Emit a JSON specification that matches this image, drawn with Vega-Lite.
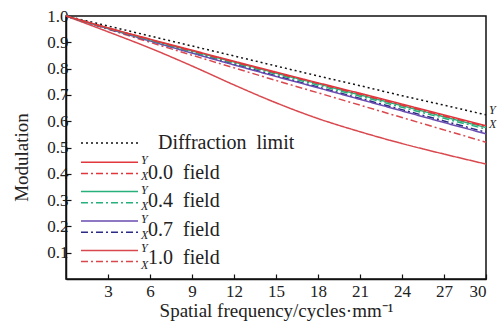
{
  "$schema": "https://vega.github.io/schema/vega-lite/v6.json",
  "width": 420,
  "height": 263,
  "autosize": "none",
  "padding": {"left": 66, "top": 16, "right": 12, "bottom": 49},
  "background": "white",
  "config": {
    "font": "Liberation Serif",
    "view": {"stroke": "#111111", "strokeWidth": 1.5},
    "axis": {
      "grid": false,
      "domainColor": "#111111",
      "domainWidth": 1.5,
      "tickColor": "#111111",
      "tickWidth": 1.2,
      "tickSize": -5,
      "labelOverlap": false,
      "labelFont": "Liberation Serif",
      "labelFontSize": 17,
      "labelColor": "#222222",
      "titleFont": "Liberation Serif",
      "titleFontSize": 19,
      "titleFontWeight": "normal",
      "titleColor": "#222222"
    }
  },
  "data": {
    "values": [
      {"f": 0, "m": 1.0, "s": "Diffraction limit"},
      {"f": 3, "m": 0.962, "s": "Diffraction limit"},
      {"f": 6, "m": 0.924, "s": "Diffraction limit"},
      {"f": 9, "m": 0.886, "s": "Diffraction limit"},
      {"f": 12, "m": 0.848, "s": "Diffraction limit"},
      {"f": 15, "m": 0.81, "s": "Diffraction limit"},
      {"f": 18, "m": 0.772, "s": "Diffraction limit"},
      {"f": 21, "m": 0.735, "s": "Diffraction limit"},
      {"f": 24, "m": 0.697, "s": "Diffraction limit"},
      {"f": 27, "m": 0.661, "s": "Diffraction limit"},
      {"f": 30, "m": 0.624, "s": "Diffraction limit"},

      {"f": 0, "m": 1.0, "s": "1.0 X", "field": "1.0 field"},
      {"f": 3, "m": 0.95, "s": "1.0 X", "field": "1.0 field"},
      {"f": 6, "m": 0.9, "s": "1.0 X", "field": "1.0 field"},
      {"f": 9, "m": 0.851, "s": "1.0 X", "field": "1.0 field"},
      {"f": 12, "m": 0.803, "s": "1.0 X", "field": "1.0 field"},
      {"f": 15, "m": 0.755, "s": "1.0 X", "field": "1.0 field"},
      {"f": 18, "m": 0.708, "s": "1.0 X", "field": "1.0 field"},
      {"f": 21, "m": 0.661, "s": "1.0 X", "field": "1.0 field"},
      {"f": 24, "m": 0.614, "s": "1.0 X", "field": "1.0 field"},
      {"f": 27, "m": 0.567, "s": "1.0 X", "field": "1.0 field"},
      {"f": 30, "m": 0.52, "s": "1.0 X", "field": "1.0 field"},

      {"f": 0, "m": 1.0, "s": "1.0 Y", "field": "1.0 field"},
      {"f": 3, "m": 0.94, "s": "1.0 Y", "field": "1.0 field"},
      {"f": 6, "m": 0.878, "s": "1.0 Y", "field": "1.0 field"},
      {"f": 9, "m": 0.81, "s": "1.0 Y", "field": "1.0 field"},
      {"f": 12, "m": 0.738, "s": "1.0 Y", "field": "1.0 field"},
      {"f": 15, "m": 0.67, "s": "1.0 Y", "field": "1.0 field"},
      {"f": 18, "m": 0.61, "s": "1.0 Y", "field": "1.0 field"},
      {"f": 21, "m": 0.56, "s": "1.0 Y", "field": "1.0 field"},
      {"f": 24, "m": 0.515, "s": "1.0 Y", "field": "1.0 field"},
      {"f": 27, "m": 0.475, "s": "1.0 Y", "field": "1.0 field"},
      {"f": 30, "m": 0.437, "s": "1.0 Y", "field": "1.0 field"},

      {"f": 0, "m": 1.0, "s": "0.7 X", "field": "0.7 field"},
      {"f": 3, "m": 0.952, "s": "0.7 X", "field": "0.7 field"},
      {"f": 6, "m": 0.906, "s": "0.7 X", "field": "0.7 field"},
      {"f": 9, "m": 0.861, "s": "0.7 X", "field": "0.7 field"},
      {"f": 12, "m": 0.817, "s": "0.7 X", "field": "0.7 field"},
      {"f": 15, "m": 0.773, "s": "0.7 X", "field": "0.7 field"},
      {"f": 18, "m": 0.73, "s": "0.7 X", "field": "0.7 field"},
      {"f": 21, "m": 0.687, "s": "0.7 X", "field": "0.7 field"},
      {"f": 24, "m": 0.644, "s": "0.7 X", "field": "0.7 field"},
      {"f": 27, "m": 0.601, "s": "0.7 X", "field": "0.7 field"},
      {"f": 30, "m": 0.558, "s": "0.7 X", "field": "0.7 field"},

      {"f": 0, "m": 1.0, "s": "0.7 Y", "field": "0.7 field"},
      {"f": 3, "m": 0.952, "s": "0.7 Y", "field": "0.7 field"},
      {"f": 6, "m": 0.905, "s": "0.7 Y", "field": "0.7 field"},
      {"f": 9, "m": 0.859, "s": "0.7 Y", "field": "0.7 field"},
      {"f": 12, "m": 0.814, "s": "0.7 Y", "field": "0.7 field"},
      {"f": 15, "m": 0.77, "s": "0.7 Y", "field": "0.7 field"},
      {"f": 18, "m": 0.727, "s": "0.7 Y", "field": "0.7 field"},
      {"f": 21, "m": 0.683, "s": "0.7 Y", "field": "0.7 field"},
      {"f": 24, "m": 0.639, "s": "0.7 Y", "field": "0.7 field"},
      {"f": 27, "m": 0.595, "s": "0.7 Y", "field": "0.7 field"},
      {"f": 30, "m": 0.552, "s": "0.7 Y", "field": "0.7 field"},

      {"f": 0, "m": 1.0, "s": "0.4 X", "field": "0.4 field"},
      {"f": 3, "m": 0.953, "s": "0.4 X", "field": "0.4 field"},
      {"f": 6, "m": 0.908, "s": "0.4 X", "field": "0.4 field"},
      {"f": 9, "m": 0.864, "s": "0.4 X", "field": "0.4 field"},
      {"f": 12, "m": 0.821, "s": "0.4 X", "field": "0.4 field"},
      {"f": 15, "m": 0.779, "s": "0.4 X", "field": "0.4 field"},
      {"f": 18, "m": 0.737, "s": "0.4 X", "field": "0.4 field"},
      {"f": 21, "m": 0.695, "s": "0.4 X", "field": "0.4 field"},
      {"f": 24, "m": 0.653, "s": "0.4 X", "field": "0.4 field"},
      {"f": 27, "m": 0.611, "s": "0.4 X", "field": "0.4 field"},
      {"f": 30, "m": 0.57, "s": "0.4 X", "field": "0.4 field"},

      {"f": 0, "m": 1.0, "s": "0.4 Y", "field": "0.4 field"},
      {"f": 3, "m": 0.954, "s": "0.4 Y", "field": "0.4 field"},
      {"f": 6, "m": 0.91, "s": "0.4 Y", "field": "0.4 field"},
      {"f": 9, "m": 0.867, "s": "0.4 Y", "field": "0.4 field"},
      {"f": 12, "m": 0.825, "s": "0.4 Y", "field": "0.4 field"},
      {"f": 15, "m": 0.783, "s": "0.4 Y", "field": "0.4 field"},
      {"f": 18, "m": 0.742, "s": "0.4 Y", "field": "0.4 field"},
      {"f": 21, "m": 0.7, "s": "0.4 Y", "field": "0.4 field"},
      {"f": 24, "m": 0.659, "s": "0.4 Y", "field": "0.4 field"},
      {"f": 27, "m": 0.617, "s": "0.4 Y", "field": "0.4 field"},
      {"f": 30, "m": 0.576, "s": "0.4 Y", "field": "0.4 field"},

      {"f": 0, "m": 1.0, "s": "0.0 X", "field": "0.0 field"},
      {"f": 3, "m": 0.954, "s": "0.0 X", "field": "0.0 field"},
      {"f": 6, "m": 0.91, "s": "0.0 X", "field": "0.0 field"},
      {"f": 9, "m": 0.867, "s": "0.0 X", "field": "0.0 field"},
      {"f": 12, "m": 0.825, "s": "0.0 X", "field": "0.0 field"},
      {"f": 15, "m": 0.784, "s": "0.0 X", "field": "0.0 field"},
      {"f": 18, "m": 0.743, "s": "0.0 X", "field": "0.0 field"},
      {"f": 21, "m": 0.702, "s": "0.0 X", "field": "0.0 field"},
      {"f": 24, "m": 0.661, "s": "0.0 X", "field": "0.0 field"},
      {"f": 27, "m": 0.62, "s": "0.0 X", "field": "0.0 field"},
      {"f": 30, "m": 0.58, "s": "0.0 X", "field": "0.0 field"},

      {"f": 0, "m": 1.0, "s": "0.0 Y", "field": "0.0 field"},
      {"f": 3, "m": 0.955, "s": "0.0 Y", "field": "0.0 field"},
      {"f": 6, "m": 0.912, "s": "0.0 Y", "field": "0.0 field"},
      {"f": 9, "m": 0.87, "s": "0.0 Y", "field": "0.0 field"},
      {"f": 12, "m": 0.828, "s": "0.0 Y", "field": "0.0 field"},
      {"f": 15, "m": 0.787, "s": "0.0 Y", "field": "0.0 field"},
      {"f": 18, "m": 0.746, "s": "0.0 Y", "field": "0.0 field"},
      {"f": 21, "m": 0.706, "s": "0.0 Y", "field": "0.0 field"},
      {"f": 24, "m": 0.665, "s": "0.0 Y", "field": "0.0 field"},
      {"f": 27, "m": 0.624, "s": "0.0 Y", "field": "0.0 field"},
      {"f": 30, "m": 0.583, "s": "0.0 Y", "field": "0.0 field"}
    ]
  },
  "encoding": {
    "x": {
      "field": "f", "type": "quantitative",
      "scale": {"domain": [0, 30], "nice": false},
      "axis": {"values": [3, 6, 9, 12, 15, 18, 21, 24, 27, 30], "labelPadding": 9, "labelOverlap": false, "labelFont": "Liberation Serif", "titleY": 37, "titleBaseline": "alphabetic"},
      "title": "Spatial frequency/cycles·mm⁻¹"
    },
    "y": {
      "field": "m", "type": "quantitative",
      "scale": {"domain": [0, 1], "nice": false},
      "axis": {"values": [0.1, 0.2, 0.3, 0.4, 0.5, 0.6, 0.7, 0.8, 0.9, 1.0], "format": ".1f", "labelPadding": 3, "labelOverlap": false, "labelFlush": false, "labelBound": false, "labelFont": "Liberation Serif", "titleX": -39, "titleY": 141, "titleBaseline": "alphabetic"},
      "title": "Modulation"
    }
  },
  "layer": [
    {
      "transform": [{"filter": "datum.s == 'Diffraction limit'"}],
      "mark": {"type": "line", "strokeWidth": 1.5, "interpolate": "monotone"},
      "encoding": {
        "color": {
          "field": "s", "type": "nominal",
          "scale": {
            "domain": ["Diffraction limit", "0.0 Y", "0.0 X", "0.4 Y", "0.4 X", "0.7 Y", "0.7 X", "1.0 Y", "1.0 X"],
            "range": ["#111111", "#e0363c", "#e0363c", "#26b07c", "#26b07c", "#6a4cb0", "#2b2a85", "#d9484e", "#d9484e"]
          },
          "legend": {
            "orient": "none", "direction": "vertical", "legendX": 37.5, "legendY": 121, "title": null,
            "padding": 0, "symbolType": "M-6,0H6", "symbolSize": 90.25, "symbolStrokeWidth": 1.5,
            "labelOffset": 25.5, "labelFontSize": 12, "labelFont": "Liberation Serif", "labelColor": "#222222",
            "rowPadding": 1.2,
            "encode": {
              "labels": {
                "update": {
                  "text": {"signal": "datum.value == 'Diffraction limit' ? 'Diffraction\u2002limit' : (indexof(datum.value, 'Y') >= 0 ? 'Y' : 'X')"},
                  "fontSize": {"signal": "datum.value == 'Diffraction limit' ? 20 : 12"},
                  "fontStyle": {"signal": "datum.value == 'Diffraction limit' ? 'normal' : 'italic'"},
                  "dx": {"signal": "datum.value == 'Diffraction limit' ? 17 : 0"},
                  "dy": {"signal": "datum.value == 'Diffraction limit' ? 0 : (indexof(datum.value, 'Y') >= 0 ? -2 : 3)"}
                }
              }
            }
          }
        },
        "strokeDash": {
          "field": "s", "type": "nominal",
          "scale": {
            "domain": ["Diffraction limit", "0.0 Y", "0.0 X", "0.4 Y", "0.4 X", "0.7 Y", "0.7 X", "1.0 Y", "1.0 X"],
            "range": [[2, 3], [1, 0], [7, 3, 2, 3], [1, 0], [7, 3, 2, 3], [1, 0], [7, 3, 2, 3], [1, 0], [7, 3, 2, 3]]
          }
        }
      }
    },
    {
      "transform": [{"filter": "datum.s != 'Diffraction limit'"}],
      "mark": {"type": "line", "strokeWidth": 1.5, "interpolate": "monotone"},
      "encoding": {
        "color": {"field": "s", "type": "nominal"},
        "strokeDash": {"field": "s", "type": "nominal"},
        "opacity": {
          "field": "field", "type": "ordinal",
          "scale": {"domain": ["0.0 field", "0.4 field", "0.7 field", "1.0 field"], "range": [1, 1, 1, 1]},
          "legend": {
            "orient": "none", "direction": "vertical", "legendX": 62, "legendY": 147, "title": null,
            "padding": 0, "symbolSize": 0, "symbolOpacity": 0, "symbolStrokeWidth": 0,
            "labelOffset": 0, "labelFontSize": 20, "labelFont": "Liberation Serif", "labelColor": "#222222",
            "rowPadding": 8.3,
            "labelExpr": "replace(datum.label, ' ', '\u2002')"
          }
        }
      }
    },
    {
      "transform": [{"filter": "datum.s == 'Diffraction limit' && datum.f == 30"}],
      "mark": {"type": "text", "text": "Y", "fontStyle": "italic", "fontSize": 12, "align": "left", "dx": 3, "dy": -5, "color": "#222222"}
    },
    {
      "transform": [{"filter": "datum.s == '0.0 Y' && datum.f == 30"}],
      "mark": {"type": "text", "text": "X", "fontStyle": "italic", "fontSize": 12, "align": "left", "dx": 3, "dy": -2, "color": "#222222"}
    }
  ]
}
